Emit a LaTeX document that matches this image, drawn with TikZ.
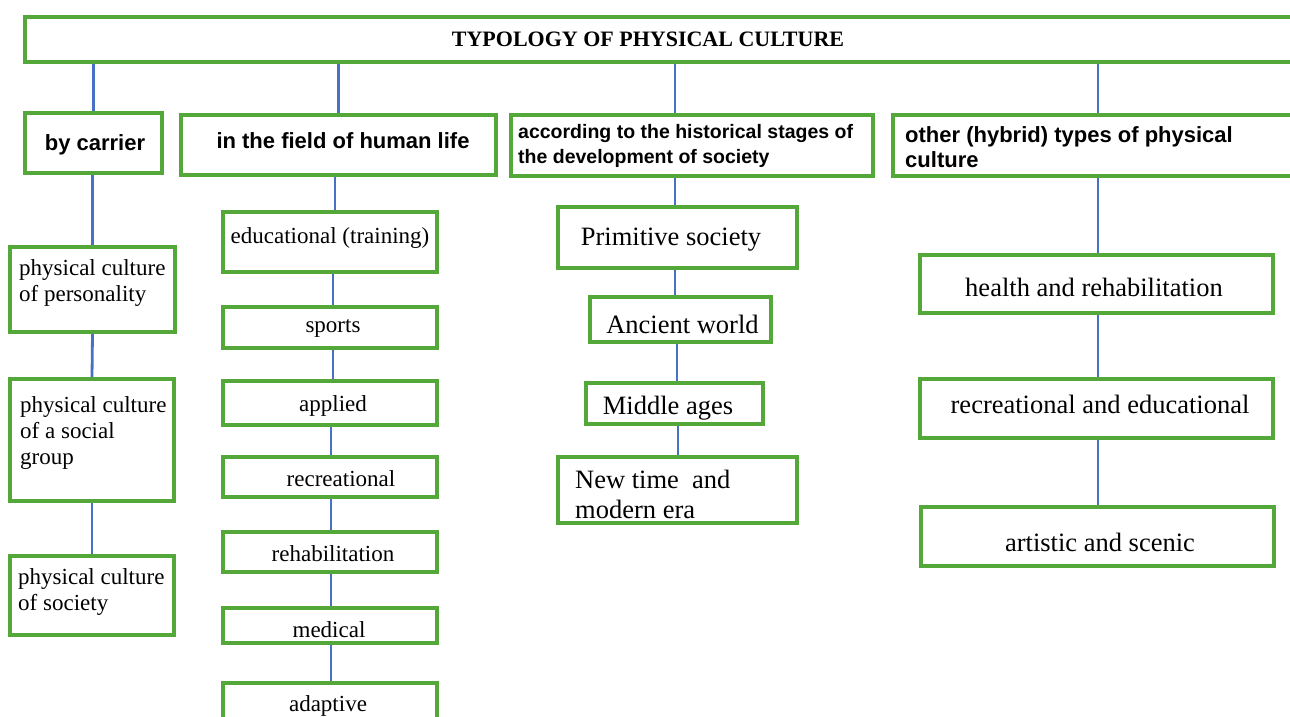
\documentclass[tikz,border=0pt]{standalone}
\usepackage{fontspec}
\setmainfont{Liberation Serif}
\newfontfamily\arialf{Liberation Sans}
\definecolor{boxgreen}{RGB}{84,168,58}
\definecolor{lineblue}{RGB}{72,112,196}
\tikzset{
  box/.style={draw=boxgreen, line width=3.2pt, fill=white, inner sep=0pt, rectangle},
  conn/.style={draw=lineblue, line width=2.8pt},
  sanshead/.style={font=\arialf\bfseries\fontsize{22pt}{25pt}\selectfont, inner sep=0pt},
  sanssmall/.style={font=\arialf\bfseries\fontsize{19.5pt}{25pt}\selectfont, inner sep=0pt},
  serifm/.style={font=\fontsize{23pt}{26pt}\selectfont, inner sep=0pt},
  serifl/.style={font=\fontsize{26.5pt}{30pt}\selectfont, inner sep=0pt},
  titlef/.style={font=\bfseries\fontsize{22pt}{26pt}\selectfont, inner sep=0pt}
}
\begin{document}
\begin{tikzpicture}[x=1pt,y=-1pt]
\useasboundingbox (0,0) rectangle (1290,716);
\begin{scope}
\clip (0,0) rectangle (1290,716);
% top box
\node[box, minimum width=1285, minimum height=45] (top) at (667.5,39.5) {};
% level 2
\node[box, minimum width=137, minimum height=60] (carrier) at (93.5,143) {};
\node[box, minimum width=315, minimum height=60] (field) at (338.5,145) {};
\node[box, minimum width=362, minimum height=61] (hist) at (692,145.5) {};
\node[box, minimum width=417, minimum height=61] (other) at (1101.5,145.5) {};
% column 1
\node[box, minimum width=165, minimum height=85] (pers) at (92.5,289.5) {};
\node[box, minimum width=164, minimum height=122] (group) at (92,440) {};
\node[box, minimum width=164, minimum height=79] (soc) at (92,595.5) {};
% column 2
\node[box, minimum width=214, minimum height=60] (edu) at (330,242) {};
\node[box, minimum width=214, minimum height=41] (sports) at (330,327.5) {};
\node[box, minimum width=214, minimum height=44] (applied) at (330,403) {};
\node[box, minimum width=214, minimum height=40] (recr) at (330,477) {};
\node[box, minimum width=214, minimum height=40] (rehab) at (330,552) {};
\node[box, minimum width=214, minimum height=35] (medical) at (330,625.5) {};
\node[box, minimum width=214, minimum height=44] (adaptive) at (330,705) {};
% column 3
\node[box, minimum width=239, minimum height=61] (prim) at (677.5,237.5) {};
\node[box, minimum width=181, minimum height=45] (anc) at (680.5,319.5) {};
\node[box, minimum width=177, minimum height=41] (mid) at (674.5,403.5) {};
\node[box, minimum width=239, minimum height=66] (newt) at (677.5,490) {};
% column 4
\node[box, minimum width=353, minimum height=58] (health) at (1096.5,284) {};
\node[box, minimum width=353, minimum height=59] (receduc) at (1096.5,408.5) {};
\node[box, minimum width=353, minimum height=59] (art) at (1097.5,536.5) {};

% connectors
\draw[conn] (top.south -| carrier.north) -- (carrier.north);
\draw[conn] (top.south -| field.north) -- (field.north);
\draw[conn] (top.south -| 675,0) -- (hist.north -| 675,0);
\draw[conn] (top.south -| 1098,0) -- (other.north -| 1098,0);
\draw[conn] (carrier.south -| pers.north) -- (pers.north);
\draw[conn] (pers.south) -- (group.north);
\draw[conn] (group.south) -- (soc.north);
\draw[conn] (field.south -| 335,0) -- (edu.north -| 335,0);
\draw[conn] (edu.south -| 333,0) -- (sports.north -| 333,0);
\draw[conn] (sports.south -| 333,0) -- (applied.north -| 333,0);
\draw[conn] (applied.south -| 331,0) -- (recr.north -| 331,0);
\draw[conn] (recr.south -| 331,0) -- (rehab.north -| 331,0);
\draw[conn] (rehab.south -| 331,0) -- (medical.north -| 331,0);
\draw[conn] (medical.south -| 331,0) -- (adaptive.north -| 331,0);
\draw[conn] (hist.south -| 675,0) -- (prim.north -| 675,0);
\draw[conn] (prim.south -| 675,0) -- (anc.north -| 675,0);
\draw[conn] (anc.south -| 677,0) -- (mid.north -| 677,0);
\draw[conn] (mid.south -| 678,0) -- (newt.north -| 678,0);
\draw[conn] (other.south -| 1098,0) -- (health.north -| 1098,0);
\draw[conn] (health.south -| 1098,0) -- (receduc.north -| 1098,0);
\draw[conn] (receduc.south -| 1098,0) -- (art.north -| 1098,0);

% texts
\node[titlef] (ttitle) at (648,39) {TYPOLOGY OF PHYSICAL CULTURE};
\node[sanshead] (tcarrier) at (95,145) {by carrier};
\node[sanshead] (tfield) at (343,141) {in the field of human life};
\node[sanssmall, anchor=west, align=left] (thist) at (518,146) {according to the historical stages of\\the development of society};
\node[sanshead, anchor=west, align=left] (tother) at (905,147) {other (hybrid) types of physical\\culture};
\node[serifm, anchor=west, align=left] (tpers) at (19,283) {physical culture\\of personality};
\node[serifm, anchor=west, align=left] (tgroup) at (20,433) {physical culture\\of a social\\group};
\node[serifm, anchor=west, align=left] (tsoc) at (18,592) {physical culture\\of society};
\node[serifm] (tedu) at (330,238) {educational (training)};
\node[serifm] (tsports) at (333,328) {sports};
\node[serifm] (tapplied) at (333,406) {applied};
\node[serifm] (trecr) at (341,479) {recreational};
\node[serifm] (trehab) at (333,554) {rehabilitation};
\node[serifm] (tmedical) at (329,630) {medical};
\node[serifm] (tadaptive) at (328,706) {adaptive};
\node[serifl] (tprim) at (671,240) {Primitive society};
\node[serifl] (tanc) at (682.5,324) {Ancient world};
\node[serifl] (tmid) at (668,408) {Middle ages};
\node[serifl, anchor=west, align=left] (tnew) at (575,494) {New time\ \ and\\modern era};
\node[serifl] (thealth) at (1094,287) {health and rehabilitation};
\node[serifl] (treceduc) at (1100,404) {recreational and educational};
\node[serifl] (tart) at (1100,542) {artistic and scenic};
\end{scope}
\end{tikzpicture}
\end{document}
